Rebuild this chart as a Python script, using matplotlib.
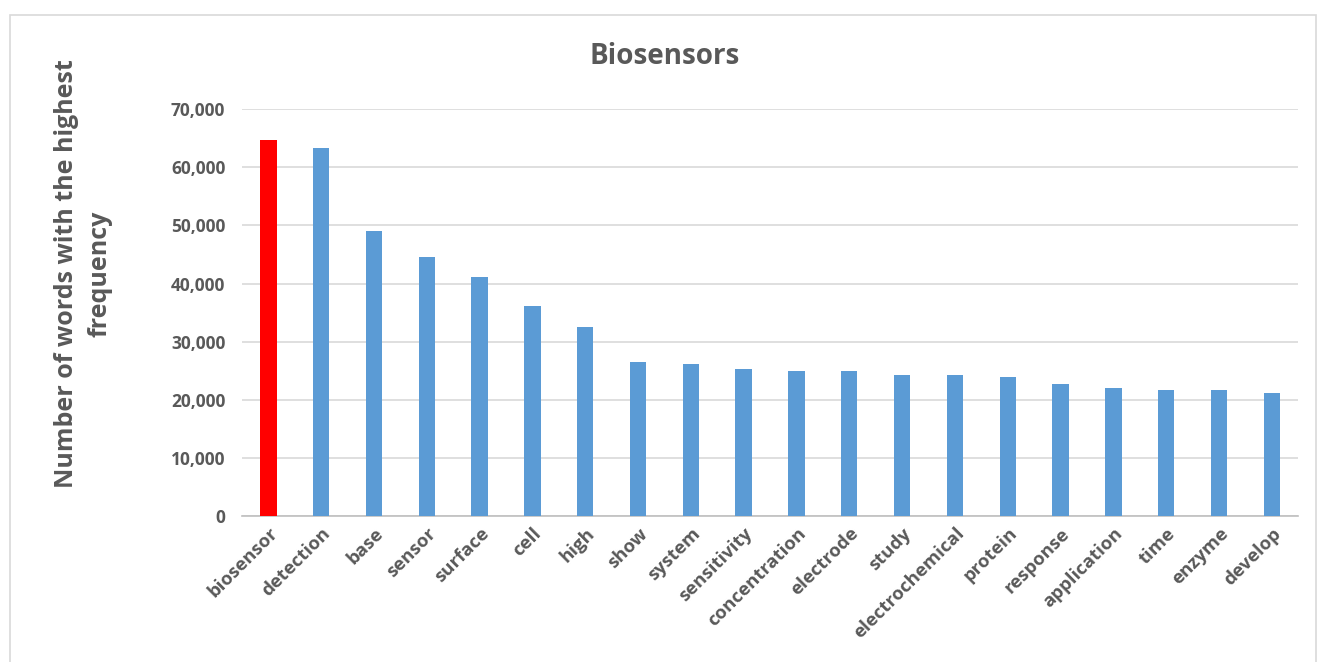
import matplotlib
matplotlib.use("Agg")
import matplotlib.pyplot as plt
from matplotlib.patches import Rectangle
from matplotlib.ticker import FuncFormatter

words = ["biosensor", "detection", "base", "sensor", "surface", "cell", "high",
         "show", "system", "sensitivity", "concentration", "electrode", "study",
         "electrochemical", "protein", "response", "application", "time",
         "enzyme", "develop"]
counts = [64700, 63300, 49100, 44500, 41200, 36200, 32500, 26550, 26150, 25350,
          25000, 25000, 24350, 24200, 23900, 22750, 22000, 21700, 21650, 21150]
colors = ["#ff0000"] + ["#5b9bd5"] * (len(words) - 1)

plt.rcParams['font.family'] = ['Open Sans', 'DejaVu Sans']
grey = "#595959"

fig = plt.figure(figsize=(13.22, 6.62), dpi=100)
ax = fig.add_axes([0.183, 0.2205, 0.799, 0.6145])

# outer chart border
fig.patches.append(Rectangle((10 / 1322, -0.01), 1306 / 1322, 1 - 15 / 662 + 0.01,
                             transform=fig.transFigure, fill=False,
                             edgecolor="#d9d9d9", linewidth=1.2))

x = range(len(words))
ax.bar(x, counts, width=0.31, color=colors, zorder=3)
ax.set_xlim(-0.5, len(words) - 0.5)
ax.set_ylim(0, 70000)
ax.set_yticks(range(0, 70001, 10000))
ax.yaxis.set_major_formatter(FuncFormatter(lambda v, p: f"{int(v):,}"))
ax.grid(axis="y", color="#d9d9d9", linewidth=1.2, zorder=0)

for s in ["top", "right", "left"]:
    ax.spines[s].set_visible(False)
ax.spines["bottom"].set_color("#bfbfbf")
ax.spines["bottom"].set_linewidth(1.2)
ax.tick_params(axis="y", length=0, labelsize=12.5, labelcolor=grey, pad=12)
ax.tick_params(axis="x", length=0, labelsize=13.3, labelcolor=grey, pad=6)
ax.set_xticks(list(x))
ax.set_xticklabels(words, rotation=45, ha="right", rotation_mode="anchor",
                   fontweight="bold")
for lab in ax.get_yticklabels():
    lab.set_fontweight("bold")

fig.text(0.503, 0.914, "Biosensors", ha="center", va="center", fontsize=20,
         fontweight="bold", color=grey)
fig.text(0.063, 0.587, "Number of words with the highest\nfrequency", rotation=90,
         ha="center", va="center", fontsize=18, fontweight="bold", color=grey,
         multialignment="center", linespacing=1.45)

plt.savefig("out.png", dpi=100)
